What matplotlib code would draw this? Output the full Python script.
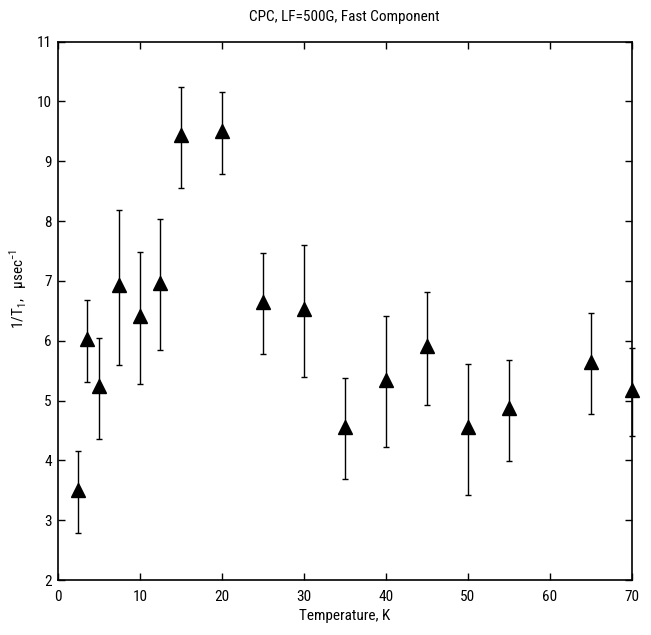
import matplotlib
matplotlib.use("Agg")
import matplotlib.pyplot as plt
import numpy as np

plt.rcParams['font.family'] = ['Roboto Condensed', 'Liberation Sans', 'DejaVu Sans']
plt.rcParams['mathtext.fontset'] = 'custom'
plt.rcParams['mathtext.rm'] = 'Roboto Condensed'

# Temperature (K) and fast-component relaxation rate 1/T1 (usec^-1)
temperature = [2.5, 3.5, 5.0, 7.5, 10.0, 12.5, 15.0, 20.0, 25.0, 30.0,
               35.0, 40.0, 45.0, 50.0, 55.0, 65.0, 70.0]
rate = [3.50, 6.02, 5.24, 6.93, 6.41, 6.97, 9.43, 9.51, 6.65, 6.53,
        4.56, 5.35, 5.91, 4.55, 4.87, 5.65, 5.18]
rate_upper = [4.16, 6.68, 6.04, 8.18, 7.48, 8.03, 10.24, 10.16, 7.47, 7.60,
              5.37, 6.41, 6.82, 5.61, 5.68, 6.47, 5.88]
rate_lower = [2.78, 5.31, 4.35, 5.59, 5.28, 5.85, 8.55, 8.78, 5.78, 5.40,
              3.68, 4.22, 4.92, 3.42, 3.99, 4.77, 4.41]

x_ticks = [0, 10, 20, 30, 40, 50, 60, 70]
y_ticks = [2, 3, 4, 5, 6, 7, 8, 9, 10, 11]

rate_arr = np.array(rate)
err = np.vstack([rate_arr - np.array(rate_lower),
                 np.array(rate_upper) - rate_arr])

fig = plt.figure(figsize=(6.51, 6.35), dpi=100)
ax = fig.add_axes([0.0891, 0.0866, 0.881, 0.848])

ax.errorbar(temperature, rate, yerr=err, fmt='^', color='black',
            markersize=9.5, ecolor='black', elinewidth=1.0,
            capsize=2.0, capthick=1.0, clip_on=False, zorder=3)

ax.set_xlim(0, 70)
ax.set_ylim(2, 11)
ax.set_xticks(x_ticks)
ax.set_yticks(y_ticks)
ax.tick_params(direction='in', length=5, width=1.0, top=True, right=True,
               labelsize=11)
ax.tick_params(axis='x', pad=7)
ax.tick_params(axis='y', pad=4.5)
for s in ax.spines.values():
    s.set_linewidth(1.2)

ax.set_xlabel('Temperature, K', fontsize=11)
ax.xaxis.set_label_coords(0.5, -0.066)
ax.xaxis.label.set_va('center')
ax.set_ylabel(r'1/T$_\mathregular{1}$,   μsec$^\mathregular{-1}$', fontsize=11)
ax.yaxis.set_label_coords(-0.05, 0.54)

# Title centred over the axes, a little above the top spine
fig.text(0.5 * (0.0891 + 0.9701), 1 - 17 / 635, 'CPC, LF=500G, Fast Component',
         fontsize=11, ha='center', va='center')

fig.savefig('out.png', dpi=100)
